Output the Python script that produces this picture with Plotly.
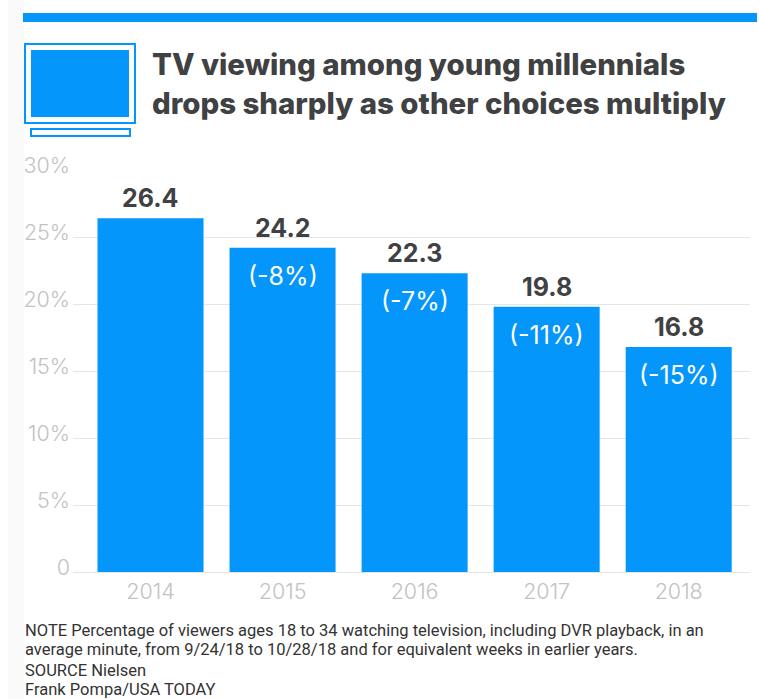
import plotly.graph_objects as go

W, H = 759, 699

# Data
years = ["2014", "2015", "2016", "2017", "2018"]
share = [26.4, 24.2, 22.3, 19.8, 16.8]
change = ["", "(-8%)", "(-7%)", "(-11%)", "(-15%)"]
y_ticks = [0, 5, 10, 15, 20, 25, 30]
y_tick_labels = ["0", "5%", "10%", "15%", "20%", "25%", "30%"]
title_lines = ["TV viewing among young millennials",
               "drops sharply as other choices multiply"]
note_lines = ["NOTE Percentage of viewers ages 18 to 34 watching television, including DVR playback, in an",
              "average minute, from 9/24/18 to 10/28/18 and for equivalent weeks in earlier years.",
              "SOURCE Nielsen",
              "Frank Pompa/USA TODAY"]

BLUE = "#0596fb"
DARK = "#3f4143"
GREY = "#c2c2c2"
GRID = "#e6e6e6"


def px(x):
    return x / W


def py(y):
    return 1 - y / H


fig = go.Figure()
fig.add_bar(x=years, y=share, width=0.803, marker=dict(color=BLUE, line_width=0),
            hoverinfo="skip", showlegend=False)

annotations = []
# Value above each bar, year-on-year change inside it; category axes place these by serial number
for i, (v, c) in enumerate(zip(share, change)):
    annotations.append(dict(x=i, y=v, xref="x", yref="y", text=f"{v}", showarrow=False,
                            yanchor="bottom", yshift=3,
                            font=dict(family="Inter", size=25, weight=700, color=DARK)))
    if c:
        annotations.append(dict(x=i, y=v, xref="x", yref="y", text=c, showarrow=False,
                                yanchor="top", yshift=-11,
                                font=dict(family="Inter", size=25, weight=400, color="white")))

# Headline
for line, mid in zip(title_lines, [64, 104]):
    annotations.append(dict(x=px(150), y=py(mid), xref="paper", yref="paper", text=line,
                            showarrow=False, xanchor="left", yanchor="middle",
                            font=dict(family="Inter", size=29.4, weight=800, color=DARK)))

# Footnotes
for line, mid in zip(note_lines, [630, 649, 670, 689]):
    annotations.append(dict(x=px(23), y=py(mid), xref="paper", yref="paper", text=line,
                            showarrow=False, xanchor="left", yanchor="middle",
                            font=dict(family="Roboto", size=16.5, color="#333333")))


def rect(x0, y0, x1, y1, layer="above", **kw):
    return dict(type="rect", xref="paper", yref="paper", x0=px(x0), x1=px(x1),
                y0=py(y0), y1=py(y1), layer=layer, **kw)


no_line = dict(width=0)
shapes = [
    # Faint page margin on the left
    rect(8, 0, 24, 699, layer="below", fillcolor="#fafafa", line=no_line),
    # Top rule
    rect(23, 13, 757, 22, fillcolor=BLUE, line=no_line),
    # Television icon: frame, screen and stand
    rect(25, 44, 135, 123, fillcolor="white", line=dict(color=BLUE, width=2)),
    rect(31, 50, 129, 117, fillcolor=BLUE, line=no_line),
    rect(31, 129, 130, 136, fillcolor="white", line=dict(color=BLUE, width=2)),
]

tick_font = dict(family="Inter", size=21.5, weight=300, color=GREY)

fig.update_layout(
    width=W, height=H, autosize=False,
    margin=dict(l=0, r=0, t=0, b=0),
    paper_bgcolor="white", plot_bgcolor="white",
    bargap=0.2,
    annotations=annotations, shapes=shapes,
    xaxis=dict(domain=[px(73), px(750)], range=[-0.587, 4.54], type="category", automargin=False,
               showgrid=False, zeroline=False, showline=True, linecolor=GRID, linewidth=1, ticks="",
               tickfont=tick_font, ticklabelstandoff=0),
    yaxis=dict(domain=[py(572), py(170)], range=[0, 30], tickvals=y_ticks, ticktext=y_tick_labels,
               automargin=False, showgrid=True, gridcolor=GRID, gridwidth=1, zeroline=False,
               showline=False, ticks="", tickfont=tick_font,
               ticklabelstandoff=2, ticklabelshift=-5),
)
fig.write_html("out.html")
